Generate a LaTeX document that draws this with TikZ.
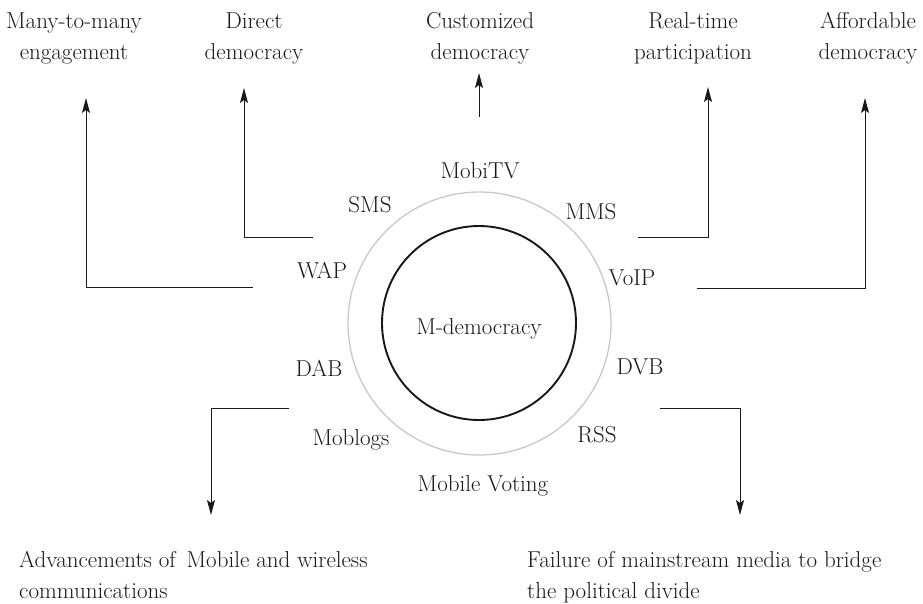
\documentclass[tikz,border=0pt]{standalone}
\usetikzlibrary{arrows.meta}
\definecolor{ink}{HTML}{1A1718}
\definecolor{ring}{HTML}{C8C8C8}
\begin{document}
\begin{tikzpicture}[x=1pt,y=-1pt,
  lbl/.style={font=\fontsize{23}{31}\selectfont, text=ink, inner sep=0pt, anchor=base},
  toplbl/.style={lbl, align=center},
  botlbl/.style={lbl, align=left, anchor=base west},
  conn/.style={draw=ink, line width=1pt, -{Stealth[length=15pt,width=8pt,inset=3pt]}},
  hub/.style={circle, draw=ink, line width=1.9pt, minimum size=194pt, inner sep=0pt},
  ringc/.style={circle, draw=ring, line width=1.3pt, minimum size=263pt, inner sep=0pt}
]
\useasboundingbox (0,0) rectangle (923,603);

% circles
\node[ringc] (ring) at (479.5,323.5) {};
\node[hub] (hubc) at (479,323) {};
\node[lbl] (md) at (479,334) {M-democracy};

% ring labels
\node[lbl] (mobitv) at (480,178) {MobiTV};
\node[lbl] (sms) at (370,212) {SMS};
\node[lbl] (mms) at (591,219) {MMS};
\node[lbl] (wap) at (322,278) {WAP};
\node[lbl] (voip) at (632,285) {VoIP};
\node[lbl] (dab) at (319,376) {DAB};
\node[lbl] (dvb) at (640,374) {DVB};
\node[lbl] (moblogs) at (351,445) {Moblogs};
\node[lbl] (rss) at (597,442) {RSS};
\node[lbl] (voting) at (483,491) {Mobile Voting};

% top labels (base anchor = baseline of last line)
\node[toplbl] (many) at (74,59) {Many-to-many\\engagement};
\node[toplbl] (direct) at (254,59) {Direct\\democracy};
\node[toplbl] (custom) at (480,59) {Customized\\democracy};
\node[toplbl] (real) at (693,59) {Real-time\\participation};
\node[toplbl] (afford) at (868,59) {Affordable\\democracy};

% bottom labels
\node[botlbl] (adv) at (19,598) {Advancements of\hspace{4pt} Mobile and wireless\\communications};
\node[botlbl] (fail) at (527,598) {Failure of mainstream media to bridge\\the political divide};

% connector ends
\coordinate (s1) at (253,287);
\coordinate (t1) at (86,98);
\coordinate (s2) at (313,237);
\coordinate (t2) at (244,88);
\coordinate (s3) at (479,117);
\coordinate (t3) at (479,73);
\coordinate (s4) at (638,237);
\coordinate (t4) at (708,87);
\coordinate (s5) at (697,288);
\coordinate (t5) at (865,98);
\coordinate (s6) at (289,408);
\coordinate (t6) at (211,515);
\coordinate (s7) at (660,408);
\coordinate (t7) at (740,515);

\draw[conn] (s1) -| (t1);
\draw[conn] (s2) -| (t2);
\draw[conn] (s3) -- (t3);
\draw[conn] (s4) -| (t4);
\draw[conn] (s5) -| (t5);
\draw[conn] (s6) -| (t6);
\draw[conn] (s7) -| (t7);
\end{tikzpicture}
\end{document}
